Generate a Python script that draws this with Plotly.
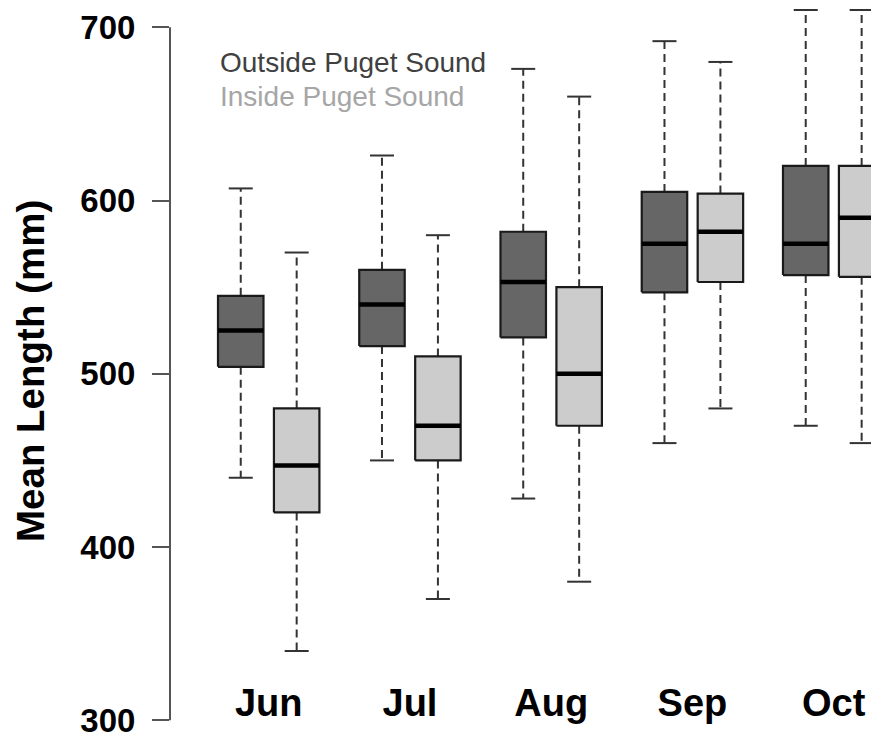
import plotly.graph_objects as go

# ---- data ----
months = ["Jun", "Jul", "Aug", "Sep", "Oct"]

out_low = [440, 450, 428, 460, 470]
out_q1 = [504, 516, 521, 547, 557]
out_med = [525, 540, 553, 575, 575]
out_q3 = [545, 560, 582, 605, 620]
out_high = [607, 626, 676, 692, 710]

in_low = [340, 370, 380, 480, 460]
in_q1 = [420, 450, 470, 553, 556]
in_med = [447, 470, 500, 582, 590]
in_q3 = [480, 510, 550, 604, 620]
in_high = [570, 580, 660, 680, 710]

y_ticks = [300, 400, 500, 600, 700]
legend_labels = ["Outside Puget Sound", "Inside Puget Sound"]

# ---- style ----
FONT = "Liberation Sans, Arial, sans-serif"
DARK = "#666666"
LIGHT = "#cccccc"
OFFSET = 0.198
HALF_W = 0.161
CAP_W = 0.085

fig = go.Figure()


def add_series(offset, low, q1, med, q3, high, fill):
    bx, by, mx, my, wx, wy, cx, cy = [], [], [], [], [], [], [], []
    for i in range(len(months)):
        c = i + offset
        x0, x1 = c - HALF_W, c + HALF_W
        bx += [x0, x1, x1, x0, x0, None]
        by += [q1[i], q1[i], q3[i], q3[i], q1[i], None]
        mx += [x0, x1, None]
        my += [med[i], med[i], None]
        wx += [c, c, None, c, c, None]
        wy += [q3[i], high[i], None, q1[i], low[i], None]
        cx += [c - CAP_W, c + CAP_W, None, c - CAP_W, c + CAP_W, None]
        cy += [high[i], high[i], None, low[i], low[i], None]
    fig.add_trace(go.Scatter(x=wx, y=wy, mode="lines",
                             line=dict(color="#333333", width=2, dash="8px,5px"),
                             hoverinfo="skip", showlegend=False))
    fig.add_trace(go.Scatter(x=cx, y=cy, mode="lines",
                             line=dict(color="#333333", width=2),
                             hoverinfo="skip", showlegend=False))
    fig.add_trace(go.Scatter(x=bx, y=by, mode="lines", fill="toself",
                             fillcolor=fill,
                             line=dict(color="#1a1a1a", width=2.2),
                             hoverinfo="skip", showlegend=False))
    fig.add_trace(go.Scatter(x=mx, y=my, mode="lines",
                             line=dict(color="black", width=4.5),
                             hoverinfo="skip", showlegend=False))


add_series(-OFFSET, out_low, out_q1, out_med, out_q3, out_high, DARK)
add_series(OFFSET, in_low, in_q1, in_med, in_q3, in_high, LIGHT)

# R-style y axis line from 300 to 700
fig.add_shape(type="line", xref="paper", yref="y", x0=0, x1=0,
              y0=y_ticks[0], y1=y_ticks[-1],
              line=dict(color="#555555", width=2))

fig.add_annotation(text="Mean Length (mm)", textangle=-90, showarrow=False,
                   xref="paper", yref="paper", x=-0.1975, y=0.5027,
                   xanchor="center", yanchor="middle",
                   font=dict(family=FONT, size=38.5, color="black", weight="bold"))

legend_colors = ["#404040", "#a6a6a6"]
legend_y = [0.9247, 0.8781]
for lab, col, ly in zip(legend_labels, legend_colors, legend_y):
    fig.add_annotation(text=lab, showarrow=False, xref="paper", yref="paper",
                       x=0.0677, y=ly, xanchor="left", yanchor="middle",
                       font=dict(family=FONT, size=28, color=col))

fig.update_layout(
    width=871, height=730,
    margin=dict(l=162, r=0, t=0, b=0),
    plot_bgcolor="white", paper_bgcolor="white",
    showlegend=False,
    xaxis=dict(range=[-0.6988, 4.3208], tickvals=list(range(len(months))),
               ticktext=months, showgrid=False, zeroline=False, showline=False,
               ticks="", anchor="free", position=0.0842,
               tickfont=dict(family=FONT, size=38, color="black", weight="bold")),
    yaxis=dict(range=[289.78, 711.14], tickvals=y_ticks, showgrid=False,
               zeroline=False, showline=False, ticks="outside", ticklen=17,
               tickwidth=2, tickcolor="#555555", ticklabelstandoff=10,
               ticklabeloverflow="allow",
               tickfont=dict(family=FONT, size=33, color="black", weight="bold")),
)

fig.write_html("out.html")
